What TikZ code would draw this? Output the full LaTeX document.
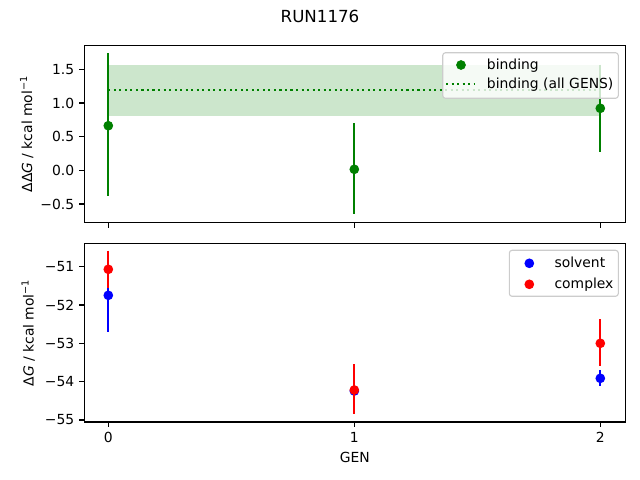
\documentclass[tikz,border=0pt]{standalone}
\usepackage{fontspec}
\setmainfont{DejaVu Sans}
\definecolor{mgreen}{HTML}{008000}
\definecolor{mred}{HTML}{FF0000}
\definecolor{mblue}{HTML}{0000FF}
\definecolor{legedge}{gray}{0.8}
\tikzset{
  lbl/.style={inner sep=0pt, font=\fontsize{10}{12}\selectfont},
  spine/.style={line width=0.8pt, black},
  tickmark/.style={line width=0.8pt, black},
  ebar/.style={line width=1.5pt},
  legbox/.style={draw=legedge, line width=0.8pt, fill=white, fill opacity=0.8, rounded corners=2pt},
}
\begin{document}
\begin{tikzpicture}[x=0.72pt, y=-0.72pt]
\useasboundingbox (0,0) rectangle (640,480);
% title
\node[inner sep=0pt, font=\fontsize{12}{14}\selectfont] (title) at (320,16) {RUN1176};

% ---------- top axes ----------
\fill[mgreen, fill opacity=0.2] (108.3,65) rectangle (600.3,115.7);
\draw[mgreen, line width=1.5pt, dash pattern=on 1.5pt off 2.475pt] (108.3,90) -- (600.3,90);
\draw[mgreen, ebar] (108.3,53.3) -- (108.3,196);
\draw[mgreen, ebar] (354.3,123) -- (354.3,214.3);
\draw[mgreen, ebar] (600.3,64.9) -- (600.3,151.7);
\fill[mgreen] (108.3,125.7) circle (3.5pt);
\fill[mgreen] (354.3,169.3) circle (3.5pt);
\fill[mgreen] (600.3,108.3) circle (3.5pt);
\draw[spine] (84.3,45.3) rectangle (625.3,222.7);
% y ticks top
\foreach \yy/\tl in {69.3/1.5, 103/1.0, 136.7/0.5, 170.3/0.0, 204/−0.5}{
  \draw[tickmark] (84.3,\yy) -- (79.4,\yy);
  \node[lbl, anchor=east] at (74.5,\yy) {\tl};
}
\foreach \xx in {108.3,354.3,600.3}{
  \draw[tickmark] (\xx,222.7) -- (\xx,227.6);
}
\node[lbl, rotate=90] (ylabtop) at (26.7,134) {ΔΔ\textit{G} / kcal mol\textsuperscript{−1}};
% legend top
\draw[legbox] (442.7,52.7) rectangle (618.3,98.3);
\fill[mgreen] (461,65) circle (3.5pt);
\node[lbl, anchor=base west] (lbind) at (486.7,69) {binding};
\draw[mgreen, line width=1.5pt, dash pattern=on 1.5pt off 2.475pt] (446,84) -- (474,84);
\node[lbl, anchor=base west] (lall) at (486.7,88.5) {binding (all GENS)};

% ---------- bottom axes ----------
\draw[mblue, ebar] (108.3,259) -- (108.3,331.7);
\fill[mblue] (108.3,295.3) circle (3.5pt);
\draw[mblue, ebar] (354.3,385) -- (354.3,397);
\fill[mblue] (354.3,391) circle (3.5pt);
\draw[mblue, ebar] (600.3,370) -- (600.3,385.7);
\fill[mblue] (600.3,378.3) circle (3.5pt);
\draw[mred, ebar] (108.3,250.7) -- (108.3,288);
\fill[mred] (108.3,269.3) circle (3.5pt);
\draw[mred, ebar] (354.3,364) -- (354.3,413.7);
\fill[mred] (354.3,390) circle (3.5pt);
\draw[mred, ebar] (600.3,319.3) -- (600.3,365.7);
\fill[mred] (600.3,343.3) circle (3.5pt);
\draw[spine] (84.3,243.3) rectangle (625.3,422);
\foreach \yy/\tl in {266.7/−51, 305/−52, 343.3/−53, 381.7/−54, 420/−55}{
  \draw[tickmark] (84.3,\yy) -- (79.4,\yy);
  \node[lbl, anchor=east] at (74.5,\yy) {\tl};
}
\foreach \xx/\tl in {108.3/0, 354.3/1, 600.3/2}{
  \draw[tickmark] (\xx,422) -- (\xx,426.9);
  \node[lbl, anchor=north] at (\xx,431.8) {\tl};
}
\node[lbl] (xlab) at (354.8,457.3) {GEN};
\node[lbl, rotate=90] (ylabbot) at (28.3,332.7) {Δ\textit{G} / kcal mol\textsuperscript{−1}};
% legend bottom
\draw[legbox] (509.3,250.3) rectangle (618.3,296.3);
\fill[mblue] (529.3,263.3) circle (3.5pt);
\node[lbl, anchor=base west] (lsolv) at (554.3,267.3) {solvent};
\fill[mred] (529.3,284.3) circle (3.5pt);
\node[lbl, anchor=base west] (lcomp) at (554.3,288.3) {complex};
\end{tikzpicture}
\end{document}
